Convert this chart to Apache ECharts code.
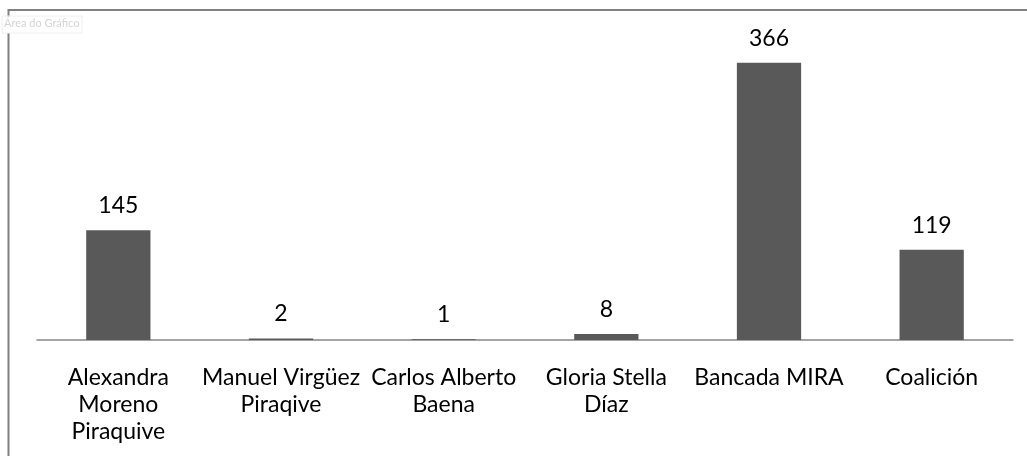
<!DOCTYPE html>
<html>
<head>
<meta charset="utf-8">
<script src="https://cdn.jsdelivr.net/npm/echarts@6/dist/echarts.min.js"></script>
<style>html,body{margin:0;padding:0;background:#fff}#c{width:1027px;height:456px}</style>
</head>
<body>
<div id="c"></div>
<script>
const categories = ["Alexandra\nMoreno\nPiraquive", "Manuel Virgüez\nPiraqive", "Carlos Alberto\nBaena", "Gloria Stella\nDíaz", "Bancada MIRA", "Coalición"];
const values = [145, 2, 1, 8, 366, 119];
const FONT = "Lato";
const chart = echarts.init(document.getElementById('c'));
chart.setOption({
  animation: false,
  backgroundColor: '#ffffff',
  grid: { left: 37, right: 14, top: 37, bottom: 116 },
  xAxis: {
    type: 'category',
    data: categories,
    axisLine: { show: true, lineStyle: { color: '#868686', width: 1.5 } },
    axisTick: { show: false },
    axisLabel: { color: '#000', fontFamily: FONT, fontSize: 23, lineHeight: 27, margin: 24, interval: 0 }
  },
  yAxis: {
    type: 'value', min: 0, max: 400,
    show: false, splitLine: { show: false }
  },
  series: [{
    type: 'bar',
    data: values,
    barWidth: '39.5%',
    itemStyle: { color: '#595959' },
    label: { show: true, position: 'top', distance: 13, color: '#000', fontFamily: FONT, fontSize: 23 }
  }],
  graphic: [
    { type: 'rect', shape: { x: 8.5, y: 10, width: 1100, height: 500 }, style: { fill: 'none', stroke: '#808080', lineWidth: 2 }, silent: true },
    { type: 'rect', shape: { x: 2, y: 16, width: 80, height: 17 }, style: { fill: '#ffffff', stroke: '#eeeeee', lineWidth: 1 }, silent: true },
    { type: 'text', x: 4, y: 18, style: { text: 'Área do Gráfico', fill: '#d4d4d4', fontFamily: FONT, fontSize: 11 }, silent: true }
  ]
});
</script>
</body>
</html>
